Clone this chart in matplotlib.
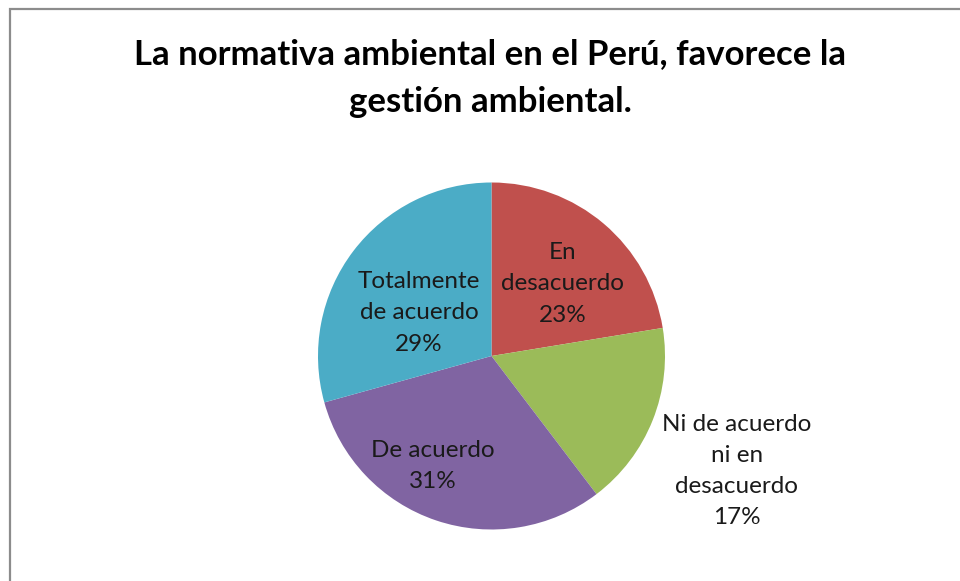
import numpy as np
import matplotlib
matplotlib.use("Agg")
import matplotlib.pyplot as plt
from matplotlib.patches import Rectangle

title = "La normativa ambiental en el Perú, favorece la\ngestión ambiental."
categories = ["En\ndesacuerdo", "Ni de acuerdo\nni en\ndesacuerdo", "De acuerdo", "Totalmente\nde acuerdo"]
counts = [13, 10, 18, 17]            # slice sizes
label_percents = [23, 17, 31, 29]    # percentages printed on the chart
colors = ["#C0504D", "#9BBB59", "#8064A2", "#4BACC6"]
# label placement: (radius fraction, angle offset in degrees)
label_r = [0.585, 1.562, 0.718, 0.486]
label_dang = [-4.4, -3.35, -9.35, 6.55]

W, H = 960, 581
fig = plt.figure(figsize=(W / 100, H / 100), dpi=100)
fig.patch.set_facecolor("white")

cx, cy, R = 491.5, 356.0, 173.5
ax = fig.add_axes([(cx - R) / W, (H - cy - R) / H, 2 * R / W, 2 * R / H])
wedges, _ = ax.pie(counts, colors=colors, startangle=90, counterclock=False,
                   radius=1.0, wedgeprops=dict(linewidth=0))
ax.set_xlim(-1, 1)
ax.set_ylim(-1, 1)
ax.set_aspect("equal")
ax.axis("off")

for w, cat, p, r, da in zip(wedges, categories, label_percents, label_r, label_dang):
    mid = np.deg2rad((w.theta1 + w.theta2) / 2 + da)
    ax.text(r * np.cos(mid), r * np.sin(mid), f"{cat}\n{p}%", ha="center", va="center",
            fontsize=17.5, family="Lato", color="#1a1a1a", linespacing=1.6, clip_on=False)

fig.text(490 / W, 1 - 78 / H, title, ha="center", va="center", fontsize=25,
         family="Lato", fontweight="bold", linespacing=1.58, color="black")

fig.patches.append(Rectangle((10 / W, -0.1), 1.1, 1 - 9 / H + 0.1, transform=fig.transFigure,
                             fill=False, edgecolor="#8C8C8C", linewidth=1.6))

fig.savefig("out.png", dpi=100)
